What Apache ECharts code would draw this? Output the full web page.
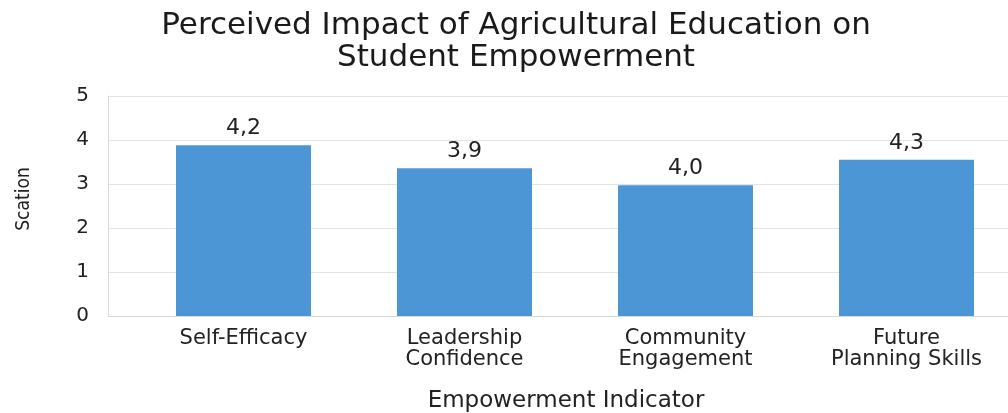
<!DOCTYPE html>
<html>
<head>
<meta charset="utf-8">
<script src="https://cdn.jsdelivr.net/npm/echarts@6/dist/echarts.min.js"></script>
<style>
html,body{margin:0;padding:0;background:#fff;}
#chart{width:1008px;height:413px;}
</style>
</head>
<body>
<div id="chart"></div>
<script>
const categories = ['Self-Efficacy', 'Leadership\nConfidence', 'Community\nEngagement', 'Future\nPlanning Skills'];
const barValues = [3.88, 3.36, 2.97, 3.55];
const valueLabels = ['4,2', '3,9', '4,0', '4,3'];
const yTicks = [0, 1, 2, 3, 4, 5];

const FONT = '"DejaVu Sans", "Open Sans", sans-serif';
const NARROW = '"DejaVu Sans Condensed", "Liberation Sans Narrow", sans-serif';
const TXT = '#222222';
const chart = echarts.init(document.getElementById('chart'), null, {renderer: 'canvas'});
chart.setOption({
  animation: false,
  backgroundColor: '#ffffff',
  title: {
    text: 'Perceived Impact of Agricultural Education on\nStudent Empowerment',
    left: 511, top: 5, textAlign: 'center',
    textStyle: {fontFamily: FONT, fontSize: 31, fontWeight: 'normal', color: '#1a1a1a', lineHeight: 32}
  },
  grid: [
    {left: 108, top: 96, width: 900, height: 220, outerBoundsMode: 'none', containLabel: false},
    {left: 133, top: 96, width: 884, height: 220, outerBoundsMode: 'none', containLabel: false}
  ],
  xAxis: [
    {
      gridIndex: 0, type: 'category', data: categories,
      axisLine: {show: true, lineStyle: {color: '#d9d9d9', width: 1}},
      axisTick: {show: false}, axisLabel: {show: false}, splitLine: {show: false},
      name: 'Empowerment Indicator', nameLocation: 'middle', nameGap: 74,
      nameTextStyle: {fontFamily: FONT, fontSize: 23, color: TXT, padding: [0, 0, 0, 16]}
    },
    {
      gridIndex: 1, type: 'category', data: categories,
      axisLine: {show: false}, axisTick: {show: false},
      axisLabel: {fontFamily: FONT, fontSize: 21, color: TXT, margin: 12, lineHeight: 21, interval: 0}
    }
  ],
  yAxis: [
    {
      gridIndex: 0, type: 'value', min: 0, max: 5, interval: 1,
      axisLine: {show: true, lineStyle: {color: '#d9d9d9', width: 1}},
      axisTick: {show: false},
      axisLabel: {fontFamily: FONT, fontSize: 20, color: TXT, margin: 19,
        formatter: function (v) { return yTicks.indexOf(v) >= 0 ? String(v) : ''; }},
      splitLine: {show: true, lineStyle: {color: '#e3e3e3', width: 1}},
      name: 'Scation', nameLocation: 'middle', nameGap: 74, nameRotate: 90,
      nameTextStyle: {fontFamily: NARROW, fontSize: 19, color: TXT, padding: [0, 0, 0, 14]}
    },
    {
      gridIndex: 1, type: 'value', min: 0, max: 5, interval: 1, show: false
    }
  ],
  series: [{
    type: 'bar', xAxisIndex: 1, yAxisIndex: 1,
    data: barValues, barWidth: 135,
    itemStyle: {color: '#4c96d6'},
    label: {
      show: true, position: 'top', distance: 6,
      fontFamily: FONT, fontSize: 22, color: TXT,
      formatter: function (p) { return valueLabels[p.dataIndex]; }
    }
  }]
});
</script>
</body>
</html>
